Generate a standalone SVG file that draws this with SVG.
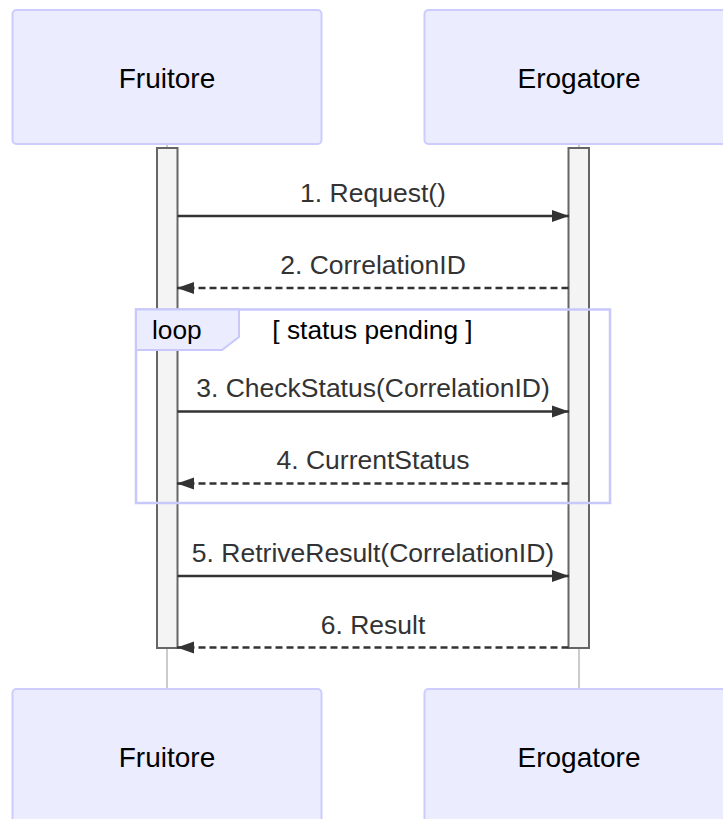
<svg xmlns="http://www.w3.org/2000/svg" width="723" height="819" viewBox="0 0 723 819">
<style>
.actor{fill:#ECECFF;stroke:#CCCCFF;stroke-width:2}
.atext{font-family:"Liberation Sans",Arial,sans-serif;font-size:28px;fill:#000;text-anchor:middle}
.life{stroke:#999;stroke-width:1}
.act{fill:#f4f4f4;stroke:#666;stroke-width:2}
.msg{stroke:#333;stroke-width:2.4;fill:none}
.dash{stroke-dasharray:7,4}
.mtext{font-family:"Liberation Sans",Arial,sans-serif;font-size:26.5px;fill:#333;text-anchor:middle}
.loop{fill:none;stroke:#C8C8FA;stroke-width:2.5}
.lbox{fill:#ECECFF;stroke:#C8C8FA;stroke-width:2}
.ltext{font-family:"Liberation Sans",Arial,sans-serif;font-size:26.3px;fill:#000}
</style>
<defs>
<marker id="arrow" markerUnits="userSpaceOnUse" markerWidth="18" markerHeight="14" refX="17" refY="7" orient="auto">
<path d="M0,1 L17,7 L0,13 Z" fill="#333"/>
</marker>
</defs>
<rect width="723" height="819" fill="#fff"/>
<g id="lifelines">
<line class="life" x1="167" y1="144" x2="167" y2="689"/>
<line class="life" x1="579" y1="144" x2="579" y2="689"/>
</g>
<g id="actor-fruitore-top">
<rect class="actor" x="12.5" y="10" width="309" height="134" rx="4"/>
<text class="atext" x="167" y="88">Fruitore</text>
</g>
<g id="actor-erogatore-top">
<rect class="actor" x="424.5" y="10" width="309" height="134" rx="4"/>
<text class="atext" x="579" y="88">Erogatore</text>
</g>
<g id="actor-fruitore-bottom">
<rect class="actor" x="12.5" y="689" width="309" height="134" rx="4"/>
<text class="atext" x="167" y="766.5">Fruitore</text>
</g>
<g id="actor-erogatore-bottom">
<rect class="actor" x="424.5" y="689" width="309" height="134" rx="4"/>
<text class="atext" x="579" y="766.5">Erogatore</text>
</g>
<g id="activation-fruitore">
<rect class="act" x="157" y="148" width="20.5" height="500"/>
</g>
<g id="activation-erogatore">
<rect class="act" x="568.5" y="148" width="20.5" height="500"/>
</g>
<g id="loop">
<rect class="loop" x="136" y="309.5" width="474" height="193.5"/>
<path class="lbox" d="M136,309.5 L239,309.5 L239,337 L222,350 L136,350 Z"/>
<text class="ltext" x="152" y="339">loop</text>
<text class="ltext" x="372.5" y="339" text-anchor="middle">[ status pending ]</text>
</g>
<g id="connectors">
<line class="msg" x1="177.5" y1="216" x2="569" y2="216" marker-end="url(#arrow)"/>
<text class="mtext" x="373" y="201.5">1. Request()</text>
<line class="msg dash" x1="568.5" y1="288" x2="177" y2="288" marker-end="url(#arrow)"/>
<text class="mtext" x="373" y="274">2. CorrelationID</text>
<line class="msg" x1="177.5" y1="411.5" x2="569" y2="411.5" marker-end="url(#arrow)"/>
<text class="mtext" x="373" y="397">3. CheckStatus(CorrelationID)</text>
<line class="msg dash" x1="568.5" y1="483.5" x2="177" y2="483.5" marker-end="url(#arrow)"/>
<text class="mtext" x="373" y="468.5">4. CurrentStatus</text>
<line class="msg" x1="177.5" y1="576" x2="569" y2="576" marker-end="url(#arrow)"/>
<text class="mtext" x="373" y="561.5">5. RetriveResult(CorrelationID)</text>
<line class="msg dash" x1="568.5" y1="647.5" x2="177" y2="647.5" marker-end="url(#arrow)"/>
<text class="mtext" x="373" y="633.5">6. Result</text>
</g>
</svg>
